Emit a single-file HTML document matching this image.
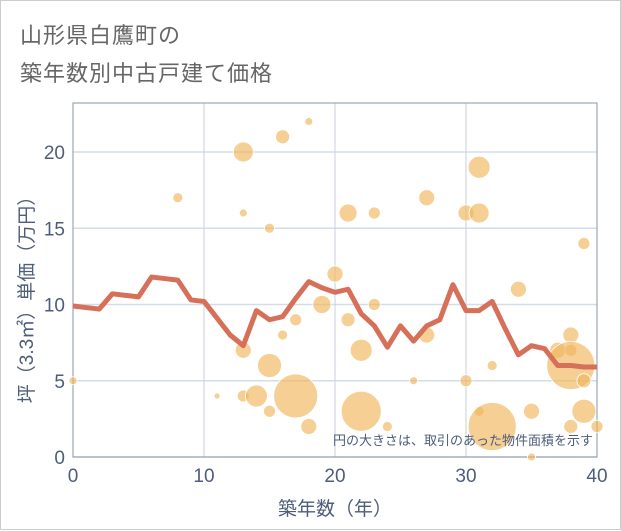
<!DOCTYPE html>
<html><head><meta charset="utf-8"><style>
body{margin:0;background:#fff;}
#wrap{position:relative;width:619px;height:528px;border:1px solid #ccc;background:#fff;font-family:"Liberation Sans","Noto Sans CJK JP",sans-serif;}
.t{position:absolute;left:19px;font-size:22px;color:#666;letter-spacing:1px;}
svg{position:absolute;left:0;top:0;}
</style></head><body>
<div id="wrap">
<div class="t" style="top:17px">山形県白鷹町の</div>
<div class="t" style="top:55px">築年数別中古戸建て価格</div>
<svg id="c" width="621" height="530"></svg>
</div>
<script>
const xTicks=[0,10,20,30,40];
const yTicks=[0,5,10,15,20];
const lineYears=[0,1,2,3,4,5,6,7,8,9,10,11,12,13,14,15,16,17,18,19,20,21,22,23,24,25,26,27,28,29,30,31,32,33,34,35,36,37,38,39,40];
const linePrices=[9.9,9.8,9.7,10.7,10.6,10.5,11.8,11.7,11.6,10.3,10.2,9.1,8.0,7.3,9.6,9.0,9.2,10.4,11.5,11.1,10.8,11.0,9.4,8.6,7.2,8.6,7.6,8.6,9.0,11.3,9.6,9.6,10.2,8.4,6.7,7.3,7.1,6.0,6.0,5.9,5.9];
const bubbleX=[8,13,13,15,16,18,13,11,13,14,15,17,18,16,17,15,19,20,0,21,23,21,22,23,22,24,26,27,27,30,31,31,30,31,32,32,34,35,35,37,38,38,38,39,39,39,38,40];
const bubbleY=[17,20,16,15,21,22,7,4,4,4,3,4,2,8,9,6,10,12,5,16,16,9,7,10,3,2,5,17,8,16,19,16,5,3,2,6,11,3,0,7,7,8,6,14,5,3,2,2];
const bubbleR=[5,10,4,5,7,4,8,3,6,11,6,22,8,5,6,12,9,8,4,9,6,7,11,6,20,5,4,8,8,8,11,10,6,5,24,5,8,8,4,8,6,8,24,6,7,12,7,6];
const NS="http://www.w3.org/2000/svg";
const svg=document.getElementById('c');
const X0=72,X1=596,Y0=456,Ytop=102;
const xs=v=>X0+(v-0)/40*(X1-X0);
const ys=v=>Y0-v*15.25;
function mk(t,a){const e=document.createElementNS(NS,t);for(const k in a)e.setAttribute(k,a[k]);svg.appendChild(e);return e;}
for(const v of yTicks){
 const g=mk('line',{x1:X0,x2:X1,y1:ys(v),y2:ys(v),stroke:'#d3dde8','stroke-width':1.5});
 
 
 const t=mk('text',{x:X0-8,y:ys(v)+7,'text-anchor':'end','font-size':19,fill:'#4d5d7a'});t.textContent=v;
 
 
}
for(const v of xTicks){
 const g=mk('line',{x1:xs(v),x2:xs(v),y1:Ytop,y2:Y0,stroke:'#c8d2dc','stroke-width':1});
 
 
 const t=mk('text',{x:xs(v),y:Y0+25,'text-anchor':'middle','font-size':19,fill:'#4d5d7a'});t.textContent=v;
 
 
}
const fr=mk('rect',{x:X0,y:Ytop,width:X1-X0,height:Y0-Ytop,fill:'none',stroke:'#8a96a8','stroke-width':1});


for(let i=0;i<bubbleX.length;i++){
 const c=mk('circle',{cx:xs(bubbleX[i]),cy:ys(bubbleY[i]),r:bubbleR[i],fill:'#f0b65a','fill-opacity':0.65,stroke:'#fff','stroke-width':0.8});
 
 
}
const pts=lineYears.map((x,i)=>xs(x)+','+ys(linePrices[i])).join(' ');
const pl=mk('polyline',{points:pts,fill:'none',stroke:'#d67058','stroke-width':5,'stroke-linejoin':'round'});


const note=mk('text',{x:592,y:444,'text-anchor':'end','font-size':13,fill:'#4d5d7a'});note.textContent='円の大きさは、取引のあった物件面積を示す';


const xt=mk('text',{x:(X0+X1)/2,y:514,'text-anchor':'middle','font-size':19,fill:'#4d5d7a'});xt.textContent='築年数（年）';


const yt=mk('text',{x:0,y:0,'text-anchor':'middle','font-size':19,fill:'#4d5d7a',transform:'translate(32,'+((Ytop+Y0)/2+15)+') rotate(-90)'});yt.textContent='坪（3.3㎡）単価（万円）';


</script>
</body></html>
